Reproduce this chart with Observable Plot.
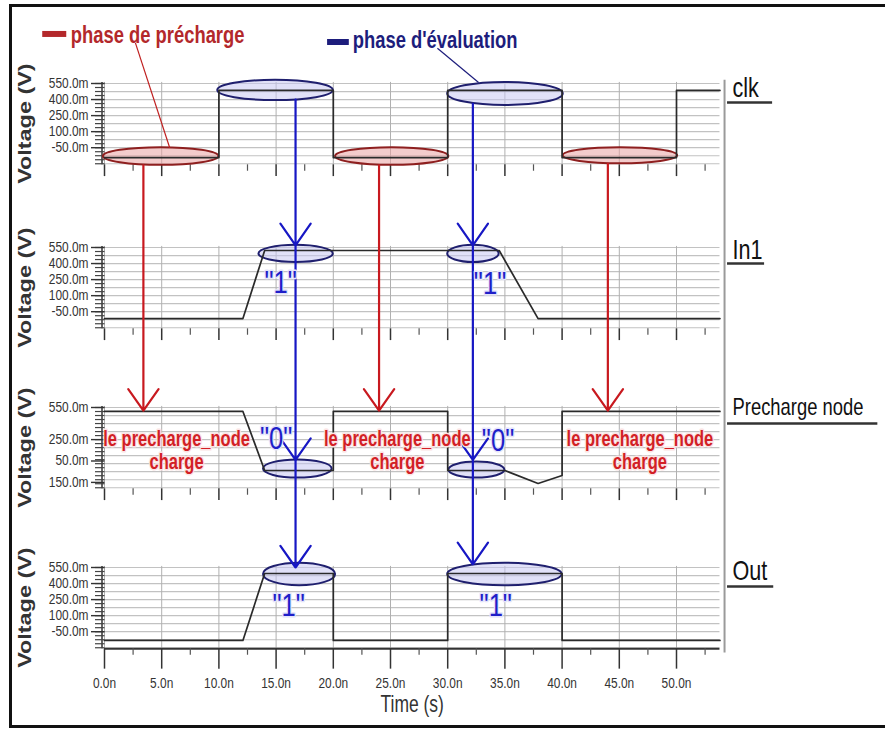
<!DOCTYPE html>
<html><head><meta charset="utf-8">
<script src="https://cdn.jsdelivr.net/npm/d3@7"></script>
<script src="https://cdn.jsdelivr.net/npm/@observablehq/plot@0.6"></script>
<style>
body{margin:0;background:#fff;}
#wrap{position:relative;width:885px;height:731px;overflow:hidden;}
#frame{position:absolute;left:9px;top:4px;width:900px;height:724px;border:3px solid #111;box-sizing:border-box;pointer-events:none;}
#chart{position:absolute;left:0;top:0;}
</style></head><body>
<div id="wrap"><div id="chart"></div><div id="frame"></div></div>
<script>
// ---------- data (time in ns, voltage in V) ----------
const panels = ["clk", "In1", "Precharge node", "Out"];

const clkT = [0, 10, 10, 20, 20, 30, 30, 40, 40, 50, 50, 53.8];
const clkV = [-0.142, -0.142, 0.485, 0.485, -0.142, -0.142, 0.485, 0.485, -0.142, -0.142, 0.485, 0.485];

const in1T = [0, 12.1, 14.0, 34.5, 37.9, 53.8];
const in1V = [-0.114, -0.114, 0.522, 0.522, -0.114, -0.114];

const preT = [0, 12.1, 14.0, 20, 20, 30, 30, 35, 37.9, 40, 40, 53.8];
const preV = [0.513, 0.513, -0.039, -0.039, 0.513, 0.513, -0.039, -0.039, -0.16, -0.085, 0.513, 0.513];

const outT = [0, 12.1, 14.0, 20, 20, 30, 30, 40, 40, 53.8];
const outV = [-0.132, -0.132, 0.494, 0.494, -0.132, -0.132, 0.494, 0.494, -0.132, -0.132];

const yTicksMain = [0.55, 0.4, 0.25, 0.1, -0.05];
const yLabelsMain = ["550.0m", "400.0m", "250.0m", "100.0m", "-50.0m"];
const yTicksPre = [0.55, 0.25, 0.05, -0.15];
const yLabelsPre = ["550.0m", "250.0m", "50.0m", "150.0m"];

const xTicks = [0, 5, 10, 15, 20, 25, 30, 35, 40, 45, 50];
const xTickLabels = ["0.0n", "5.0n", "10.0n", "15.0n", "20.0n", "25.0n", "30.0n", "35.0n", "40.0n", "45.0n", "50.0n"];
const xMinorTicks = [2.5, 7.5, 12.5, 17.5, 22.5, 27.5, 32.5, 37.5, 42.5, 47.5, 52.5];

// annotations
const redEllipses = [ // clk low phases (panel 0)
  {k: 0, t1: -0.1, t2: 10.0, v1: -0.05, v2: -0.215},
  {k: 0, t1: 20.2, t2: 30.1, v1: -0.05, v2: -0.215},
  {k: 0, t1: 40.1, t2: 50.1, v1: -0.05, v2: -0.20}
];
const blueEllipses = [
  {k: 0, t1: 9.9, t2: 20.0, v1: 0.58, v2: 0.39},
  {k: 0, t1: 30.0, t2: 40.1, v1: 0.56, v2: 0.345},
  {k: 1, t1: 13.5, t2: 20.0, v1: 0.57, v2: 0.41},
  {k: 1, t1: 30.0, t2: 34.5, v1: 0.57, v2: 0.41},
  {k: 2, t1: 13.9, t2: 19.9, v1: 0.06, v2: -0.11},
  {k: 2, t1: 30.1, t2: 35.0, v1: 0.04, v2: -0.11},
  {k: 3, t1: 13.9, t2: 20.2, v1: 0.59, v2: 0.38},
  {k: 3, t1: 30.0, t2: 40.0, v1: 0.59, v2: 0.38}
];
const redArrows = [ // from clk low ellipse to precharge node high
  {t: 3.4, k1: 0, v1: -0.215, k2: 2, v2: 0.52},
  {t: 24.0, k1: 0, v1: -0.215, k2: 2, v2: 0.52},
  {t: 44.0, k1: 0, v1: -0.20, k2: 2, v2: 0.52}
];
const blueArrows = [
  {t: 16.7, k1: 0, v1: 0.40, k2: 1, v2: 0.57},
  {t: 16.7, k1: 1, v1: 0.57, k2: 2, v2: 0.06},
  {t: 16.7, k1: 2, v1: 0.06, k2: 3, v2: 0.55},
  {t: 32.2, k1: 0, v1: 0.36, k2: 1, v2: 0.57},
  {t: 32.2, k1: 1, v1: 0.57, k2: 2, v2: 0.06},
  {t: 32.2, k1: 2, v1: 0.06, k2: 3, v2: 0.58}
];
const redNotes = [
  {k: 2, t: 6.3, v: 0.15, text: "le precharge_node\ncharge"},
  {k: 2, t: 25.6, v: 0.15, text: "le precharge_node\ncharge"},
  {k: 2, t: 46.8, v: 0.15, text: "le precharge_node\ncharge"}
];
const blueNotes = [
  {k: 1, t: 15.4, v: 0.22, text: "\"1\""},
  {k: 1, t: 33.7, v: 0.21, text: "\"1\""},
  {k: 2, t: 15.0, v: 0.26, text: "\"0\""},
  {k: 2, t: 34.4, v: 0.24, text: "\"0\""},
  {k: 3, t: 16.1, v: 0.19, text: "\"1\""},
  {k: 3, t: 34.2, v: 0.19, text: "\"1\""}
];
const legend = [
  {label: "phase de précharge", color: "#b3282b", barT1: -5.4, barT2: -3.3, barV: 1.013, t: -2.95, v: 1.0},
  {label: "phase d'évaluation", color: "#1d1d7c", barT1: 19.5, barT2: 21.4, barV: 0.938, t: 21.7, v: 0.955}
];
const leaders = [
  {t1: 2.7, v1: 0.93, t2: 5.7, v2: -0.05, color: "#c02020", dash: null},
  {t1: 29.1, v1: 0.88, t2: 32.7, v2: 0.56, color: "#1d1d7c", dash: "2,2"}
];
const rightLabels = [
  {k: 0, v: 0.50, uv: 0.372, text: "clk", weight: "normal", size: 27, uT2: 58.4},
  {k: 1, v: 0.52, uv: 0.40, text: "In1", weight: "normal", size: 27, uT2: 57.7},
  {k: 2, v: 0.546, uv: 0.40, text: "Precharge node", weight: "bold", size: 23, uT2: 67.6},
  {k: 3, v: 0.51, uv: 0.372, text: "Out", weight: "normal", size: 27, uT2: 58.5}
];

// ---------- layout ----------
const W = 885, H = 731;
const PX_PER_V = 107;
const panelTopPx = [83, 247, 407, 567];          // pixel row of the 550 mV line in each panel
const off = panelTopPx.map(p => (p - panelTopPx[0]) / PX_PER_V);
const yTop = 0.55 + panelTopPx[0] / PX_PER_V;
const yBot = yTop - H / PX_PER_V;
const Y = (k, v) => v - off[k];
const frameTop = 0.56, frameBot = -0.21;
const xMax = 53.8;

const SANS = "'Liberation Sans',Arial,sans-serif";

const waves = [
  [clkT, clkV], [in1T, in1V], [preT, preV], [outT, outV]
].flatMap(([T, V], k) => T.map((t, i) => ({k, t, v: V[i]})));

const ks = [0, 1, 2, 3];
const gridRows = ks.flatMap(k => d3.range(0.55, frameBot, -0.075).map(v => ({k, v})));
const vGrid = ks.flatMap(k => xTicks.map(t => ({k, t})));
const xMinor = ks.flatMap(k => xMinorTicks.map(t => ({k, t})));
const yLab = ks.flatMap(k => (k === 2 ? yTicksPre : yTicksMain).map((v, i) => ({k, v, text: (k === 2 ? yLabelsPre : yLabelsMain)[i]})));
const yComb = ks.flatMap(k => d3.range(0.55, frameBot - 0.001, -0.0375).map(v => ({k, v})));
const tickLen = k => (k === 3 ? 0.19 : 0.11);

const plot = Plot.plot({
  width: W, height: H,
  marginLeft: 104, marginRight: W - 104 - xMax * 11.44, marginTop: 0, marginBottom: 0,
  style: {background: "transparent", overflow: "visible"},
  x: {domain: [0, xMax], axis: null},
  y: {domain: [yBot, yTop], axis: null},
  marks: [
    // grid
    Plot.ruleY(gridRows, {y: d => Y(d.k, d.v), stroke: "#c2c2c2", strokeWidth: 1.2}),
    Plot.ruleX(vGrid, {x: "t", y1: d => Y(d.k, frameTop), y2: d => Y(d.k, frameBot), stroke: "#b0b0b0", strokeWidth: 1}),
    // right border of plotting area
    Plot.ruleX([54.2], {y1: Y(0, frameTop + 0.02), y2: Y(3, frameBot - 0.04), stroke: "#9a9a9a", strokeWidth: 2}),
    // bottom axis line
    Plot.ruleY([0], {y: () => Y(3, frameBot), x1: 0, x2: xMax, stroke: "#333", strokeWidth: 2}),
    // x ticks
    Plot.ruleX(vGrid, {x: "t", y1: d => Y(d.k, frameBot), y2: d => Y(d.k, frameBot - tickLen(d.k)), stroke: "#333", strokeWidth: 1.5}),
    Plot.ruleX(xMinor, {x: "t", y1: d => Y(d.k, frameBot), y2: d => Y(d.k, frameBot - 0.06), stroke: "#555", strokeWidth: 1.2}),
    Plot.text(xTicks, {x: d => d, y: () => Y(3, frameBot - 0.32), text: (d, i) => xTickLabels[i], fontSize: 14, fontFamily: SANS, fill: "#333", ariaLabel: () => "n85"}),
    Plot.text(["Time (s)"], {x: 26.9, y: () => Y(3, frameBot - 0.52), text: d => d, fontSize: 23, fontFamily: SANS, fill: "#333", ariaLabel: () => "n76"}),
    // y axis
    Plot.ruleX(ks, {x: 0, dx: -2.5, y1: k => Y(k, frameTop), y2: k => Y(k, frameBot), stroke: "#333", strokeWidth: 1.5}),
    Plot.tickY(yComb, {y: d => Y(d.k, d.v), dx: -9, insetRight: 613 - 7, stroke: "#444", strokeWidth: 1.2}),
    Plot.tickY(yLab, {y: d => Y(d.k, d.v), dx: -13, insetRight: 613 - 11, stroke: "#333", strokeWidth: 1.4}),
    Plot.text(yLab, {y: d => Y(d.k, d.v), text: "text", frameAnchor: "left", textAnchor: "end", dx: -16, fontSize: 14, fontFamily: SANS, fill: "#333", ariaLabel: () => "n85"}),
    Plot.text(ks, {y: k => Y(k, 0.175), text: () => "Voltage (V)", frameAnchor: "left", textAnchor: "middle", dx: -79, rotate: -90, fontSize: 18, fontWeight: "bold", fontFamily: SANS, fill: "#333", ariaLabel: () => "s130"}),
    // ellipses
    Plot.rect(redEllipses, {x1: "t1", x2: "t2", y1: d => Y(d.k, d.v1), y2: d => Y(d.k, d.v2), rx: 300, ry: 300, fill: "#e9a3a3", fillOpacity: 0.55, stroke: "#8e1f1f", strokeWidth: 2}),
    Plot.rect(blueEllipses, {x1: "t1", x2: "t2", y1: d => Y(d.k, d.v1), y2: d => Y(d.k, d.v2), rx: 300, ry: 300, fill: "#c9c9f2", fillOpacity: 0.55, stroke: "#1f1f6e", strokeWidth: 2}),
    // waveforms
    Plot.line(waves, {x: "t", y: d => Y(d.k, d.v), z: "k", stroke: "#2a2a2a", strokeWidth: 1.7}),
    // arrows
    Plot.arrow(redArrows, {x1: "t", x2: "t", y1: d => Y(d.k1, d.v1), y2: d => Y(d.k2, d.v2), stroke: "#c8191f", strokeWidth: 2.2, headLength: 18, headAngle: 70}),
    Plot.arrow(blueArrows, {x1: "t", x2: "t", y1: d => Y(d.k1, d.v1), y2: d => Y(d.k2, d.v2), stroke: "#1717c4", strokeWidth: 2.2, headLength: 18, headAngle: 70}),
    // leader lines
    Plot.link(leaders, {x1: "t1", y1: "v1", x2: "t2", y2: "v2", stroke: "color", strokeWidth: 1.2, strokeDasharray: d => d.dash}),
    // legend
    Plot.ruleY(legend, {y: "barV", x1: "barT1", x2: "barT2", stroke: "color", strokeWidth: 6}),
    Plot.text(legend, {x: "t", y: "v", text: "label", fill: "color", textAnchor: "start", fontSize: 23, fontWeight: "bold", fontFamily: SANS, ariaLabel: () => "n80"}),
    // notes
    Plot.text(redNotes, {x: "t", y: d => Y(d.k, d.v), text: "text", fill: "#d21f26", stroke: "#fbe4e4", strokeWidth: 3, fontSize: 22, fontWeight: "bold", fontFamily: SANS, lineHeight: 1.05, ariaLabel: () => "n75"}),
    Plot.text(blueNotes, {x: "t", y: d => Y(d.k, d.v), text: "text", fill: "#1f1fc8", stroke: "#e4e4fb", strokeWidth: 3, fontSize: 32, fontFamily: SANS, ariaLabel: () => "n80"}),
    // right labels
    Plot.text(rightLabels, {x: 54.46, y: d => Y(d.k, d.v), text: "text", textAnchor: "start", dx: 5, fontSize: "size", fontWeight: "weight", fontFamily: SANS, fill: "#111", ariaLabel: () => "n80"}),
    Plot.ruleY(rightLabels, {y: d => Y(d.k, d.uv), x1: 54.46, x2: "uT2", stroke: "#333", strokeWidth: 2.5})
  ]
});

// condensed lettering, as in the reference (narrow typeface): append a scale to each text's own transform
function stretch(svg, label, sx, sy) {
  d3.select(svg).selectAll(`text[aria-label="${label}"]`).each(function () {
    const t = this.getAttribute("transform") || "";
    this.setAttribute("transform", `${t} scale(${sx},${sy})`);
  });
}
stretch(plot, "n85", 0.85, 1);
stretch(plot, "n80", 0.8, 1);
stretch(plot, "n76", 0.76, 1);
stretch(plot, "n75", 0.75, 1);
stretch(plot, "s130", 1.3, 1);
document.getElementById("chart").appendChild(plot);
</script>
</body></html>
